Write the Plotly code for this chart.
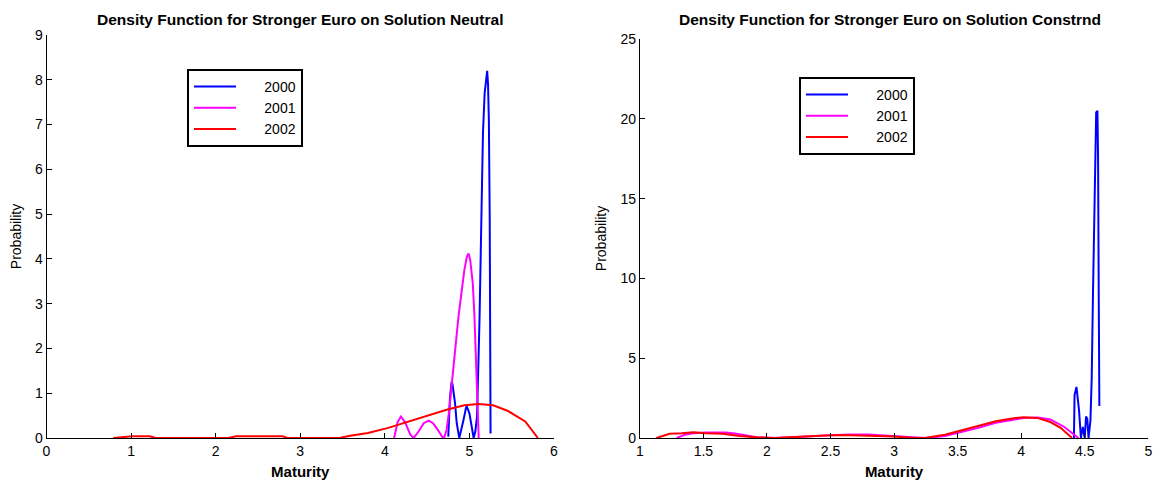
import plotly.graph_objects as go

# ---------------- data: left panel (Solution Neutral) ----------------
neutral_2000_x = [4.75, 4.77, 4.79, 4.80, 4.83, 4.85, 4.88, 4.90, 4.93, 4.96, 4.97, 5.00, 5.03,
                  5.05, 5.07, 5.09, 5.12, 5.14, 5.16, 5.18, 5.20, 5.21, 5.22, 5.23, 5.24, 5.25]
neutral_2000_y = [0.03, 0.9, 1.26, 1.2, 0.78, 0.33, 0.0, 0.15, 0.40, 0.68, 0.70, 0.55, 0.25,
                  0.0, 0.15, 0.48, 2.7, 5.3, 6.8, 7.7, 8.14, 8.2, 7.9, 7.1, 4.9, 0.1]

neutral_2001_x = [4.11, 4.15, 4.19, 4.24, 4.30, 4.34, 4.40, 4.46, 4.52, 4.57, 4.62, 4.68, 4.70,
                  4.73, 4.76, 4.79, 4.83, 4.87, 4.91, 4.94, 4.97, 4.99, 5.01, 5.04, 5.06, 5.08,
                  5.10, 5.11]
neutral_2001_y = [0.0, 0.35, 0.48, 0.35, 0.08, 0.0, 0.15, 0.33, 0.39, 0.33, 0.20, 0.02, 0.0,
                  0.18, 0.6, 1.22, 1.96, 2.7, 3.3, 3.75, 4.05, 4.12, 3.97, 3.45, 2.7, 1.6,
                  0.48, 0.0]

neutral_2002_x = [0.79, 0.85, 0.92, 1.02, 1.22, 1.29, 1.5, 2.0, 2.15, 2.24, 2.5, 2.79, 2.85,
                  3.0, 3.2, 3.46, 3.59, 3.80, 4.03, 4.22, 4.30, 4.52, 4.73, 4.94, 5.11, 5.28,
                  5.45, 5.66, 5.81]
neutral_2002_y = [0, 0.01, 0.02, 0.04, 0.04, 0, 0, 0, 0, 0.04, 0.04, 0.04, 0,
                  0, 0, 0, 0.05, 0.11, 0.22, 0.33, 0.39, 0.52, 0.63, 0.73, 0.76, 0.73,
                  0.61, 0.37, 0]

# ---------------- data: right panel (Solution Constrnd) ----------------
constr_2000_x = [4.415, 4.42, 4.435, 4.44, 4.455, 4.47, 4.485, 4.50, 4.51, 4.52, 4.53, 4.545,
                 4.555, 4.565, 4.575, 4.585, 4.59, 4.60, 4.605, 4.61, 4.615]
constr_2000_y = [0, 2.7, 3.2, 2.9, 1.75, 0, 0.7, 0, 1.35, 1.2, 0, 1.1,
                 3.8, 9.1, 14.3, 18.5, 20.4, 20.5, 17.4, 9.1, 2.0]

constr_2001_x = [1.29, 1.355, 1.42, 1.52, 1.68, 1.76, 1.92, 2.06, 2.2, 2.35, 2.5, 2.65, 2.8,
                 2.95, 3.1, 3.25, 3.40, 3.53, 3.67, 3.80, 3.94, 4.02, 4.13, 4.23, 4.34, 4.45]
constr_2001_y = [0, 0.21, 0.30, 0.34, 0.34, 0.26, 0.04, 0, 0.05, 0.13, 0.18, 0.22, 0.22,
                 0.14, 0.06, 0, 0.12, 0.38, 0.65, 0.96, 1.18, 1.26, 1.28, 1.16, 0.69, 0]

constr_2002_x = [1.13, 1.235, 1.33, 1.42, 1.52, 1.65, 1.785, 1.92, 2.06, 2.16, 2.32, 2.46, 2.59,
                 2.725, 2.86, 3.0, 3.13, 3.24, 3.40, 3.53, 3.67, 3.80, 3.94, 4.02, 4.125, 4.23,
                 4.31, 4.40]
constr_2002_y = [0, 0.26, 0.30, 0.36, 0.30, 0.26, 0.13, 0.04, 0, 0.04, 0.13, 0.15, 0.19,
                 0.17, 0.13, 0.09, 0.02, 0, 0.21, 0.47, 0.75, 1.05, 1.24, 1.3, 1.26, 1.0,
                 0.64, 0]

series_names = ["2000", "2001", "2002"]
series_colors = ["#0000ff", "#ff00ff", "#ff0000"]
titles = ["Density Function for Stronger Euro on Solution Neutral",
          "Density Function for Stronger Euro on Solution Constrnd"]

FONT = "Arial, Liberation Sans, sans-serif"
W, H = 1156, 484
PAD = "\u00a0" * 6

fig = go.Figure()

left = [(neutral_2000_x, neutral_2000_y), (neutral_2001_x, neutral_2001_y), (neutral_2002_x, neutral_2002_y)]
right = [(constr_2000_x, constr_2000_y), (constr_2001_x, constr_2001_y), (constr_2002_x, constr_2002_y)]

for (xs, ys), name, col in zip(left, series_names, series_colors):
    fig.add_trace(go.Scatter(x=xs, y=ys, mode="lines", name=PAD + name,
                             line=dict(color=col, width=2), xaxis="x", yaxis="y",
                             legend="legend"))
for (xs, ys), name, col in zip(right, series_names, series_colors):
    fig.add_trace(go.Scatter(x=xs, y=ys, mode="lines", name=PAD + name,
                             line=dict(color=col, width=2), xaxis="x2", yaxis="y2",
                             legend="legend2"))

axis_common = dict(showline=True, linecolor="black", linewidth=1, ticks="inside",
                   ticklen=5, tickcolor="black", tickwidth=1, showgrid=False,
                   zeroline=False, mirror=False, automargin=False,
                   tickfont=dict(family=FONT, size=14, color="black"))

legend_common = dict(xanchor="left", yanchor="top", bordercolor="black", borderwidth=2,
                     bgcolor="white", font=dict(family=FONT, size=14, color="black"),
                     itemwidth=42, tracegroupgap=0)

fig.update_layout(
    template="none",
    width=W, height=H,
    margin=dict(l=0, r=0, t=0, b=0, autoexpand=False),
    paper_bgcolor="white", plot_bgcolor="white",
    font=dict(family=FONT, size=14, color="black"),
    xaxis=dict(domain=[46.5 / W, 554 / W], range=[0, 6], tickmode="linear", tick0=0, dtick=1,
               title=dict(text="<b>Maturity</b>", font=dict(size=15), standoff=8),
               anchor="y", **axis_common),
    yaxis=dict(domain=[1 - 438 / H, 1 - 35 / H], range=[0, 9], tickmode="linear", tick0=0, dtick=1,
               title=dict(text="Probability", font=dict(size=14), standoff=10),
               anchor="x", **axis_common),
    xaxis2=dict(domain=[639.8 / W, 1148.3 / W], range=[1, 5], tickmode="linear", tick0=1, dtick=0.5,
                title=dict(text="<b>Maturity</b>", font=dict(size=15), standoff=8),
                anchor="y2", **axis_common),
    yaxis2=dict(domain=[1 - 438 / H, 1 - 39 / H], range=[0, 25], tickmode="linear", tick0=0, dtick=5,
                title=dict(text="Probability", font=dict(size=14), standoff=10),
                anchor="x2", **axis_common),
    legend=dict(x=187 / W, y=1 - 69 / H, **legend_common),
    legend2=dict(x=799 / W, y=1 - 77 / H, **legend_common),
    showlegend=True,
)

for cx, txt in [(300, titles[0]), (890, titles[1])]:
    fig.add_annotation(text="<b>" + txt + "</b>", x=cx / W, y=1 - 19 / H, xref="paper", yref="paper",
                       xanchor="center", yanchor="middle", showarrow=False,
                       font=dict(family=FONT, size=15.5, color="black"))

fig.write_html("out.html")
